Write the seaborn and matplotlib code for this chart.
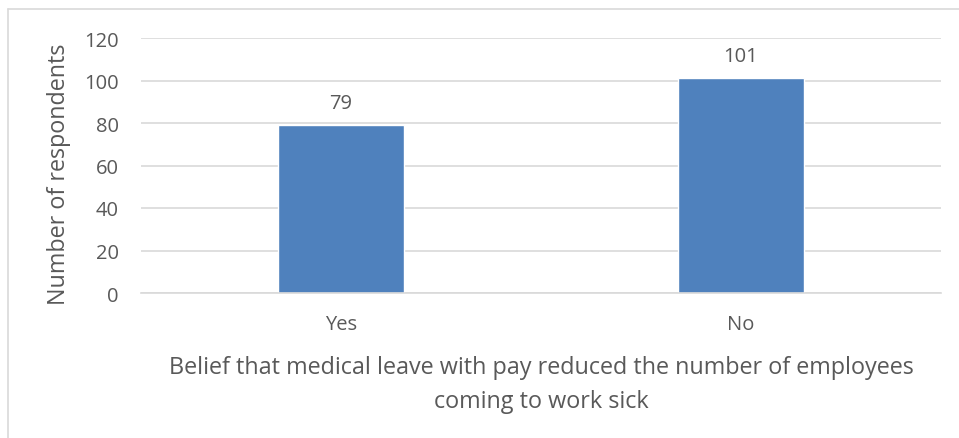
import matplotlib
matplotlib.use("Agg")
import matplotlib.pyplot as plt
from matplotlib.lines import Line2D
import seaborn as sns
import pandas as pd

categories = ["Yes", "No"]
respondents = [79, 101]
y_ticks = [0, 20, 40, 60, 80, 100, 120]

sns.set_theme(style="white")
plt.rcParams["font.family"] = ["Open Sans", "DejaVu Sans"]

TEXT = "#595959"
GRID = "#D9D9D9"
BAR = "#4F81BD"

W, H = 959, 439
fig = plt.figure(figsize=(W / 100, H / 100), dpi=100)
ax = fig.add_axes([141 / W, 1 - 294 / H, 800 / W, 255 / H])

df = pd.DataFrame({"answer": categories, "count": respondents})
sns.barplot(data=df, x="answer", y="count", color=BAR, width=0.315,
            saturation=1, ax=ax)

ax.set_xlim(-0.5, 1.5)
ax.set_ylim(0, 120)
ax.set_yticks(y_ticks)
ax.yaxis.grid(True, color=GRID, linewidth=1.2)
ax.set_axisbelow(True)
for side in ["top", "right", "left"]:
    ax.spines[side].set_visible(False)
ax.spines["bottom"].set_color(GRID)
ax.spines["bottom"].set_linewidth(1.2)
ax.tick_params(axis="both", length=0, labelsize=14.5, colors=TEXT)
ax.tick_params(axis="y", pad=16)
ax.tick_params(axis="x", pad=15)

for container in ax.containers:
    ax.bar_label(container, labels=[str(v) for v in respondents],
                 padding=9, fontsize=14.5, color=TEXT)

ax.set_ylabel("Number of respondents", fontsize=16.8, color=TEXT)
ax.yaxis.set_label_coords(-0.088, 0.47)
ax.set_xlabel("Belief that medical leave with pay reduced the number of employees\ncoming to work sick",
              fontsize=16.8, color=TEXT, labelpad=15, linespacing=1.6)

# outer chart frame (top and left edges)
fig.add_artist(Line2D([8 / W, 1], [1 - 10 / H, 1 - 10 / H], color=GRID, linewidth=1.2,
                      transform=fig.transFigure))
fig.add_artist(Line2D([8 / W, 8 / W], [0, 1 - 10 / H], color=GRID, linewidth=1.2,
                      transform=fig.transFigure))

fig.savefig("out.png", dpi=100, facecolor="white")
